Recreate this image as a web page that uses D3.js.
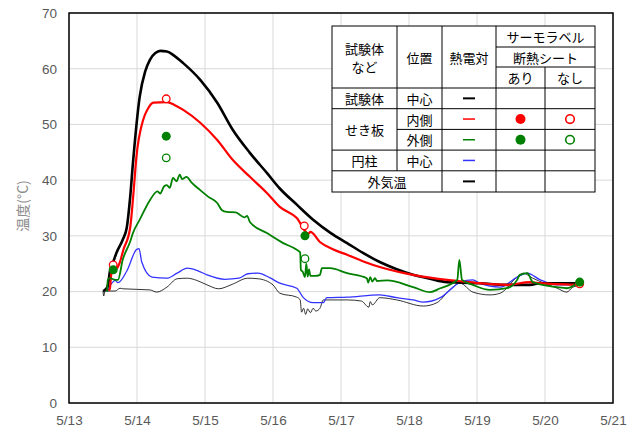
<!DOCTYPE html>
<html>
<head>
<meta charset="utf-8">
<script src="https://cdn.jsdelivr.net/npm/d3@7"></script>
<style>
  body { margin: 0; background: #fff; }
  svg { font-family: "Noto Sans CJK JP", "Noto Sans", sans-serif; }
</style>
</head>
<body>
<div id="chart"></div>
<script>
// day of May (decimal) and temperature
const specimenCenter = [
  [13.50, 20.1], [13.53, 20.3], [13.57, 21.0], [13.60, 23.5], [13.65, 25.3], [13.70, 27.0],
  [13.79, 29.3], [13.85, 31.5], [13.90, 37.0], [13.94, 43.0], [14.04, 55.0], [14.12, 59.5],
  [14.19, 61.6], [14.27, 62.8], [14.34, 63.2], [14.44, 63.1], [14.55, 62.3], [14.68, 61.0],
  [14.93, 58.0], [15.18, 53.9], [15.41, 49.0], [15.66, 44.9], [15.91, 41.3], [16.10, 38.5],
  [16.35, 35.6], [16.59, 32.9], [16.85, 30.5], [17.09, 28.7], [17.33, 26.9], [17.57, 25.3],
  [17.82, 24.0], [18.06, 23.0], [18.31, 22.3], [18.56, 21.7], [18.80, 21.6], [19.04, 21.5],
  [19.44, 21.2], [19.78, 21.2], [19.93, 21.5], [20.47, 21.5]
];
const formInner = [
  [13.58, 20.2], [13.60, 20.5], [13.62, 23.0], [13.65, 25.0], [13.69, 24.0], [13.74, 25.0],
  [13.80, 27.5], [13.90, 31.5], [13.95, 38.0], [13.99, 44.0], [14.09, 50.8], [14.16, 52.8],
  [14.24, 53.9], [14.44, 54.0], [14.55, 53.5], [14.68, 52.6], [14.93, 50.3], [15.18, 47.2],
  [15.41, 43.6], [15.66, 40.6], [15.91, 37.7], [16.10, 35.2], [16.35, 33.2], [16.52, 30.4],
  [16.55, 30.7], [16.69, 28.9], [16.88, 27.6], [17.09, 26.6], [17.33, 25.4], [17.57, 24.4],
  [17.82, 23.6], [18.06, 23.0], [18.31, 22.5], [18.56, 22.1], [18.80, 21.8], [19.04, 21.5],
  [19.44, 21.2], [19.78, 21.7], [19.93, 21.5], [20.47, 21.2]
];
const formOuter = [
  [13.56, 20.0], [13.57, 22.1], [13.60, 22.4], [13.68, 22.1], [13.72, 22.1], [13.79, 25.7],
  [13.90, 29.0], [13.94, 30.5], [14.04, 32.9], [14.19, 36.4], [14.30, 38.0], [14.34, 37.6],
  [14.40, 38.9], [14.44, 39.1], [14.48, 38.6], [14.53, 40.4], [14.58, 39.8], [14.63, 41.0],
  [14.66, 40.2], [14.73, 40.6], [14.80, 39.6], [14.93, 38.2], [15.05, 37.0], [15.18, 35.9],
  [15.25, 34.6], [15.32, 34.3], [15.45, 34.2], [15.51, 33.8], [15.58, 33.3], [15.62, 33.6],
  [15.66, 32.5], [15.91, 30.5], [16.15, 28.7], [16.35, 27.5], [16.40, 27.0], [16.41, 23.9],
  [16.44, 23.5], [16.47, 22.6], [16.49, 25.0], [16.51, 22.7], [16.53, 24.0], [16.55, 22.8],
  [16.62, 22.8], [16.69, 23.0], [16.72, 24.2], [16.84, 24.2], [17.09, 23.3], [17.38, 22.4],
  [17.40, 21.6], [17.43, 22.6], [17.46, 21.8], [17.50, 22.4], [17.53, 21.9], [17.68, 22.0],
  [18.06, 20.8], [18.31, 19.9], [18.46, 20.6], [18.71, 22.1], [18.74, 25.7], [18.78, 22.1],
  [18.94, 21.2], [19.19, 20.3], [19.44, 20.6], [19.59, 22.1], [19.63, 23.0], [19.74, 23.3],
  [19.82, 21.7], [20.18, 20.8], [20.32, 20.6], [20.47, 21.5]
];
const columnCenter = [
  [13.56, 20.0], [13.68, 22.0], [13.72, 21.6], [13.85, 23.7], [13.99, 27.5], [14.03, 27.7],
  [14.07, 25.3], [14.22, 22.6], [14.44, 22.4], [14.59, 23.3], [14.74, 24.2], [14.88, 23.8],
  [15.03, 23.0], [15.29, 22.2], [15.50, 22.4], [15.63, 23.2], [15.78, 23.3], [15.95, 22.5],
  [16.10, 21.5], [16.35, 20.6], [16.44, 19.0], [16.59, 18.0], [16.74, 18.0], [16.79, 18.9],
  [17.09, 19.0], [17.57, 19.4], [17.82, 18.9], [18.06, 18.5], [18.21, 18.1], [18.46, 18.9],
  [18.65, 20.8], [18.75, 21.7], [18.94, 22.1], [19.04, 21.5], [19.34, 20.8], [19.59, 22.6],
  [19.74, 23.3], [19.93, 22.1], [20.18, 21.2], [20.42, 21.2]
];
const outdoor = [
  [13.50, 20.1], [13.51, 19.2], [13.53, 20.1], [13.68, 20.1], [13.75, 20.6], [13.79, 20.5],
  [14.19, 20.3], [14.29, 19.9], [14.44, 20.8], [14.59, 22.3], [14.74, 22.4], [14.88, 22.0],
  [15.03, 21.2], [15.20, 20.5], [15.40, 21.3], [15.63, 22.4], [15.78, 22.3], [16.00, 21.2],
  [16.10, 19.7], [16.35, 19.0], [16.40, 18.5], [16.42, 16.3], [16.45, 17.0], [16.48, 15.9],
  [16.51, 16.9], [16.55, 16.2], [16.59, 17.0], [16.63, 16.5], [16.69, 17.0], [16.74, 18.5],
  [17.09, 18.5], [17.30, 18.3], [17.41, 17.2], [17.43, 18.2], [17.46, 17.6], [17.57, 18.9],
  [17.82, 18.5], [18.21, 17.4], [18.41, 18.0], [18.60, 20.3], [18.75, 21.5], [18.94, 19.9],
  [19.19, 19.4], [19.34, 19.7], [19.59, 22.6], [19.68, 23.3], [19.82, 22.4], [20.18, 20.6],
  [20.32, 19.9], [20.41, 20.8], [20.47, 21.0]
];
// thermo labels: [day, temp]
const innerOpen = [[13.65, 24.8], [14.43, 54.6], [16.46, 31.8], [20.51, 21.4]];
const outerFilled = [[13.65, 23.9], [14.43, 47.9], [16.47, 30.0], [20.51, 21.7]];
const outerOpen = [[14.43, 44.0], [16.47, 25.9]];

const xTicks = [13, 14, 15, 16, 17, 18, 19, 20, 21];
const yTicks = [0, 10, 20, 30, 40, 50, 60, 70];

const W = 643, H = 437;
const margin = { top: 13, right: 30, bottom: 34, left: 69 };
const width = W - margin.left - margin.right;
const height = H - margin.top - margin.bottom;

const svg = d3.select("#chart").append("svg")
  .attr("width", W).attr("height", H);
const g = svg.append("g").attr("transform", `translate(${margin.left},${margin.top})`);

const x = d3.scaleLinear().domain([13, 21]).range([0, width]);
const y = d3.scaleLinear().domain([0, 70]).range([height, 0]);

// grid
g.selectAll(".hgrid").data(yTicks).enter().append("line")
  .attr("x1", 0).attr("x2", width)
  .attr("y1", d => y(d)).attr("y2", d => y(d))
  .attr("stroke", "#d9d9d9").attr("stroke-width", 1);
g.selectAll(".vgrid").data(xTicks).enter().append("line")
  .attr("y1", 0).attr("y2", height)
  .attr("x1", d => x(d)).attr("x2", d => x(d))
  .attr("stroke", "#d9d9d9").attr("stroke-width", 1);

// axes
const xAxis = g.append("g").attr("transform", `translate(0,${height})`)
  .call(d3.axisBottom(x).tickValues(xTicks).tickSize(0).tickPadding(12).tickFormat(d => "5/" + d));
const yAxis = g.append("g")
  .call(d3.axisLeft(y).tickValues(yTicks).tickSize(0).tickPadding(12));
[xAxis, yAxis].forEach(a => {
  a.select(".domain").remove();
  a.selectAll("text").attr("fill", "#595959").style("font-size", "13.5px")
    .style("font-family", "'Liberation Sans', 'Noto Sans', sans-serif");
});

svg.append("text")
  .attr("transform", `translate(22,${margin.top + height / 2 - 2}) rotate(-90)`)
  .attr("text-anchor", "middle").attr("dominant-baseline", "central")
  .attr("fill", "#8c8c8c").style("font-size", "14px")
  .text("温度(°C)");

// lines
const line = d3.line().curve(d3.curveMonotoneX).x(d => x(d[0])).y(d => y(d[1]));
const series = [
  { data: outdoor, color: "#000", w: 0.8 },
  { data: columnCenter, color: "#3333ff", w: 1.3 },
  { data: specimenCenter, color: "#000", w: 2.6 },
  { data: formInner, color: "#ff0000", w: 2.2 },
  { data: formOuter, color: "#008000", w: 1.8 }
];
g.selectAll(".series").data(series).enter().append("path")
  .attr("fill", "none")
  .attr("stroke", d => d.color)
  .attr("stroke-width", d => d.w)
  .attr("stroke-linejoin", "round")
  .attr("d", d => line(d.data));

// markers
g.selectAll(".innerOpen").data(innerOpen).enter().append("circle")
  .attr("cx", d => x(d[0])).attr("cy", d => y(d[1])).attr("r", 3.8)
  .attr("fill", "#fff").attr("stroke", "#ff0000").attr("stroke-width", 1.3);
g.selectAll(".outerOpen").data(outerOpen).enter().append("circle")
  .attr("cx", d => x(d[0])).attr("cy", d => y(d[1])).attr("r", 3.8)
  .attr("fill", "#fff").attr("stroke", "#008000").attr("stroke-width", 1.3);
g.selectAll(".outerFilled").data(outerFilled).enter().append("circle")
  .attr("cx", d => x(d[0])).attr("cy", d => y(d[1])).attr("r", 4.5)
  .attr("fill", "#008000");

// frame
g.append("rect").attr("width", width).attr("height", height)
  .attr("fill", "none").attr("stroke", "#000").attr("stroke-width", 1.5);

// legend table
const tbl = svg.append("g").attr("transform", "translate(332,26)");
const cols = [0, 65, 110, 164, 213, 263];
const rows = [0, 21, 41, 62, 82.7, 103.4, 124.1, 144.8, 166];
tbl.append("rect").attr("width", cols[5]).attr("height", rows[8])
  .attr("fill", "#fff").attr("stroke", "#000").attr("stroke-width", 1);
const segs = [
  // horizontal
  [cols[3], rows[1], cols[5], rows[1]],
  [cols[3], rows[2], cols[5], rows[2]],
  [0, rows[3], cols[5], rows[3]],
  [0, rows[4], cols[5], rows[4]],
  [cols[1], rows[5], cols[5], rows[5]],
  [0, rows[6], cols[5], rows[6]],
  [0, rows[7], cols[5], rows[7]],
  // vertical
  [cols[1], 0, cols[1], rows[7]],
  [cols[2], 0, cols[2], rows[8]],
  [cols[3], 0, cols[3], rows[8]],
  [cols[4], rows[2], cols[4], rows[8]]
];
tbl.selectAll(".seg").data(segs).enter().append("line")
  .attr("x1", d => d[0]).attr("y1", d => d[1]).attr("x2", d => d[2]).attr("y2", d => d[3])
  .attr("stroke", "#000").attr("stroke-width", 1);

const cells = [
  ["試験体", 0, 1, 0, 3, -9], ["など", 0, 1, 0, 3, 9],
  ["位置", 1, 2, 0, 3, 0], ["熱電対", 2, 3, 0, 3, 0],
  ["サーモラベル", 3, 5, 0, 1, 0], ["断熱シート", 3, 5, 1, 2, 0],
  ["あり", 3, 4, 2, 3, 0], ["なし", 4, 5, 2, 3, 0],
  ["試験体", 0, 1, 3, 4, 0], ["中心", 1, 2, 3, 4, 0],
  ["せき板", 0, 1, 4, 6, 0], ["内側", 1, 2, 4, 5, 0], ["外側", 1, 2, 5, 6, 0],
  ["円柱", 0, 1, 6, 7, 0], ["中心", 1, 2, 6, 7, 0],
  ["外気温", 0, 2, 7, 8, 0]
];
tbl.selectAll(".cell").data(cells).enter().append("text")
  .attr("x", d => (cols[d[1]] + cols[d[2]]) / 2)
  .attr("y", d => (rows[d[3]] + rows[d[4]]) / 2 + d[5])
  .attr("text-anchor", "middle").attr("dominant-baseline", "central")
  .attr("fill", "#000").style("font-size", "13px")
  .text(d => d[0]);

const dashes = [[3, "#000"], [4, "#ff0000"], [5, "#008000"], [6, "#3333ff"], [7, "#000"]];
const dx = (cols[2] + cols[3]) / 2;
tbl.selectAll(".dash").data(dashes).enter().append("line")
  .attr("x1", dx - 6).attr("x2", dx + 6)
  .attr("y1", d => (rows[d[0]] + rows[d[0] + 1]) / 2)
  .attr("y2", d => (rows[d[0]] + rows[d[0] + 1]) / 2)
  .attr("stroke", d => d[1]).attr("stroke-width", d => d[1] === "#000" ? 2 : 1.5);

const legendDots = [[4, 3, "#ff0000", true], [4, 4, "#ff0000", false], [5, 3, "#008000", true], [5, 4, "#008000", false]];
tbl.selectAll(".ldot").data(legendDots).enter().append("circle")
  .attr("cx", d => (cols[d[1]] + cols[d[1] + 1]) / 2)
  .attr("cy", d => (rows[d[0]] + rows[d[0] + 1]) / 2)
  .attr("r", d => d[3] ? 5 : 4.3)
  .attr("fill", d => d[3] ? d[2] : "#fff")
  .attr("stroke", d => d[2]).attr("stroke-width", d => d[3] ? 0 : 1.6);
</script>
</body>
</html>
